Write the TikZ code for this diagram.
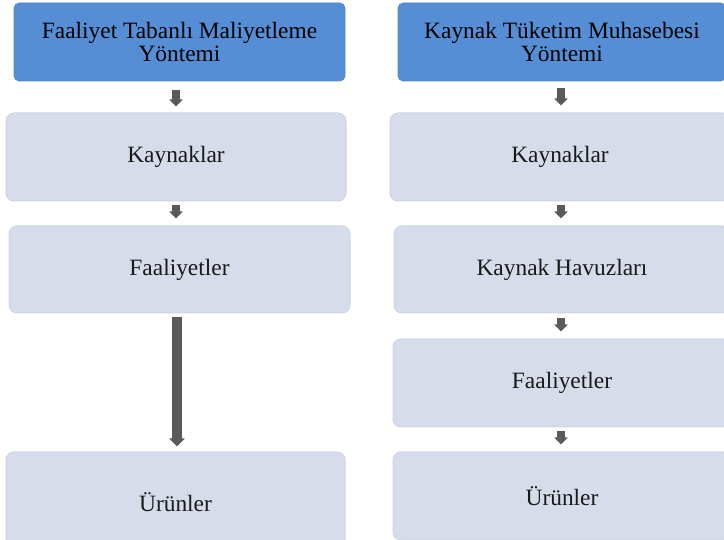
\documentclass[tikz,border=0pt]{standalone}
\usepackage{fontspec}
\setmainfont{Liberation Serif}
\usetikzlibrary{arrows.meta}
\definecolor{hdrblue}{RGB}{85,142,213}
\definecolor{hdrline}{RGB}{80,135,205}
\definecolor{boxfill}{RGB}{214,220,233}
\definecolor{boxline}{RGB}{206,213,228}
\definecolor{arrgray}{RGB}{90,90,90}
\tikzset{
  txt/.style={font=\fontsize{23.4}{23.5}\selectfont, align=center, inner sep=0pt, text=black},
  hdr/.style={txt, rectangle, rounded corners=5pt, fill=hdrblue, draw=hdrline, line width=0.6pt},
  lbox/.style={txt, rectangle, rounded corners=8pt, fill=boxfill, draw=boxline, line width=1pt, text=black!90},
  smallarr/.style={draw=arrgray, line width=8pt, -{Triangle[width=13pt,length=7pt]}},
  longarr/.style={draw=arrgray, line width=10pt, -{Triangle[width=15pt,length=8pt]}}
}
\begin{document}
\begin{tikzpicture}[x=1pt,y=-1pt]
\useasboundingbox (0,0) rectangle (724,540);
\clip (0,0) rectangle (724,540);
% left column
\node[hdr, minimum width=331pt, minimum height=78pt] (h1) at (179.5,42) {Faaliyet Tabanlı Maliyetleme\\Yöntemi};
\node[lbox, minimum width=340pt, minimum height=88pt] (k1) at (176,157) {Kaynaklar};
\node[lbox, minimum width=341pt, minimum height=87pt] (f1) at (179.5,269.5) {Faaliyetler};
\node[lbox, minimum width=339pt, minimum height=100pt] (u1) at (175.5,502) {Ürünler};
% right column
\node[hdr, minimum width=328pt, minimum height=78pt] (h2) at (562,42) {Kaynak Tüketim Muhasebesi\\Yöntemi};
\node[lbox, minimum width=340pt, minimum height=88pt] (k2) at (560,157) {Kaynaklar};
\node[lbox, minimum width=336pt, minimum height=87pt] (kh2) at (562,269.5) {Kaynak Havuzları};
\node[lbox, minimum width=338pt, minimum height=88pt] (f2) at (562,383) {Faaliyetler};
\node[lbox, minimum width=338pt, minimum height=88pt] (u2) at (562,496) {Ürünler};
% connectors left
\coordinate (a1) at (176,0);
\draw[smallarr, shorten <=9pt, shorten >=6pt] (a1 |- h1.south) -- (a1 |- k1.north);
\draw[smallarr, shorten <=4pt, shorten >=7pt] (a1 |- k1.south) -- (a1 |- f1.north);
\coordinate (a1b) at (177,0);
\draw[longarr, shorten <=4pt, shorten >=5pt] (a1b |- f1.south) -- (a1b |- u1.north);
% connectors right
\coordinate (a2) at (561,0);
\draw[smallarr, shorten <=7pt, shorten >=7pt] (a2 |- h2.south) -- (a2 |- k2.north);
\draw[smallarr, shorten <=4pt, shorten >=7pt] (a2 |- k2.south) -- (a2 |- kh2.north);
\draw[smallarr, shorten <=5pt, shorten >=7pt] (a2 |- kh2.south) -- (a2 |- f2.north);
\draw[smallarr, shorten <=4pt, shorten >=7pt] (a2 |- f2.south) -- (a2 |- u2.north);
\end{tikzpicture}
\end{document}
